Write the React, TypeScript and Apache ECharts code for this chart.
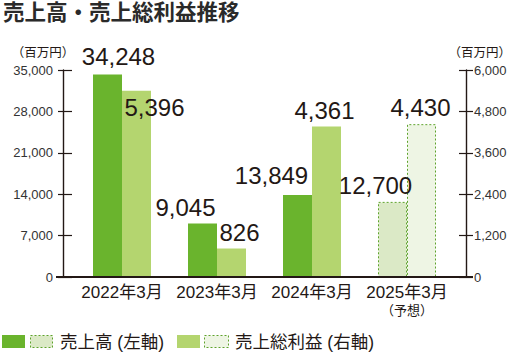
import React, { useEffect, useRef } from 'react';
import * as echarts from 'echarts';

const categories = ['2022年3月', '2023年3月', '2024年3月', '2025年3月'];
const categoryNotes = ['', '', '', '（予想）'];
const salesValues = [34248, 9045, 13849, 12700];
const grossProfitValues = [5396, 826, 4361, 4430];
const forecastFlags = [false, false, false, true];
const leftAxis = { min: 0, max: 35000, interval: 7000 };
const rightAxis = { min: 0, max: 6000, interval: 1200 };
const titleText = '売上高・売上総利益推移';
const unitText = '（百万円）';
const legendSales = '売上高 (左軸)';
const legendProfit = '売上総利益 (右軸)';

// label placement tweaks (style, not data)
const salesLabelOffsets = [[11, -18], [-17, -16], [-26, -20], [-17, -16]];
const profitLabelOffsets = [[18, 17], [8, -16], [-2, -16], [-1, -17]];

const FONT = "'Liberation Sans', 'Noto Sans CJK JP', sans-serif";
const INK = '#231815';
const DARK = '#6ab42d';
const LIGHT = '#b4d56f';
const DARK_FC = '#dbe9c6';
const LIGHT_FC = '#eef5e4';
const DASH_STROKE = '#5ea32c';

const fmt = (v: number) => Number(v).toLocaleString('en-US');

export default function App() {
  const ref = useRef<HTMLDivElement>(null);
  useEffect(() => {
    document.body.style.margin = '0';
    const chart = echarts.init(ref.current!, null, { renderer: 'svg' });
    const labelBase = {
      show: true,
      position: 'top',
      distance: 0,
      align: 'center',
      verticalAlign: 'middle',
      fontSize: 24,
      color: INK,
      fontFamily: FONT,
      formatter: (p: any) => fmt(p.value),
    };
    const tickAxis = (pos: 'left' | 'right', r: any, inside: boolean, len: number) => ({
      type: 'value',
      position: pos,
      offset: 11.5,
      min: r.min,
      max: r.max,
      interval: r.interval,
      axisLine: { show: !inside, lineStyle: { color: INK, width: 1.4 } },
      axisTick: { show: true, inside, length: len, lineStyle: { color: INK, width: 1.2 } },
      axisLabel: {
        show: !inside,
        margin: pos === 'left' ? 10 : 8,
        fontSize: 13,
        color: '#333',
        fontFamily: FONT,
        formatter: (v: number) => fmt(v),
      },
      splitLine: { show: false },
    });
    chart.setOption({
      animation: false,
      textStyle: { fontFamily: FONT },
      grid: { left: 74.5, right: 59.5, top: 70, bottom: 75, containLabel: false },
      xAxis: {
        type: 'category',
        data: categories,
        axisLine: { show: false },
        axisTick: { show: false },
        axisLabel: {
          margin: 5,
          interval: 0,
          formatter: (v: string, i: number) =>
            categoryNotes[i] ? `{m|${v}}\n{s|${categoryNotes[i]}}` : `{m|${v}}`,
          rich: {
            m: { fontSize: 17, color: INK, fontFamily: FONT, lineHeight: 20 },
            s: { fontSize: 13, color: INK, fontFamily: FONT, lineHeight: 17 },
          },
        },
      },
      yAxis: [
        tickAxis('left', leftAxis, false, 5),
        tickAxis('right', rightAxis, false, 7),
        tickAxis('left', leftAxis, true, 9),
        tickAxis('right', rightAxis, true, 7),
      ],
      series: [
        {
          type: 'bar',
          name: '売上高',
          yAxisIndex: 0,
          barWidth: 29,
          barGap: '0%',
          label: labelBase,
          data: salesValues.map((v, i) => ({
            value: v,
            itemStyle: forecastFlags[i]
              ? { color: DARK_FC, borderColor: DASH_STROKE, borderType: [2, 2], borderWidth: 1 }
              : { color: DARK },
            label: { offset: salesLabelOffsets[i] },
          })),
        },
        {
          type: 'bar',
          name: '売上総利益',
          yAxisIndex: 1,
          barWidth: 29,
          barGap: '0%',
          label: labelBase,
          data: grossProfitValues.map((v, i) => ({
            value: v,
            itemStyle: forecastFlags[i]
              ? { color: LIGHT_FC, borderColor: DASH_STROKE, borderType: [2, 2], borderWidth: 1 }
              : { color: LIGHT },
            label: { offset: profitLabelOffsets[i] },
          })),
        },
      ],
      graphic: [
        {
          type: 'text',
          left: 3,
          top: 2,
          style: { text: titleText, fontSize: 21.5, fontWeight: 'bold', fill: '#2a2a2a', fontFamily: FONT },
        },
        {
          type: 'text',
          x: 43,
          y: 53,
          style: { text: unitText, fontSize: 12.5, fill: INK, fontFamily: FONT, align: 'center', verticalAlign: 'middle' },
        },
        {
          type: 'text',
          x: 511,
          y: 53,
          style: { text: unitText, fontSize: 12.5, fill: INK, fontFamily: FONT, align: 'right', verticalAlign: 'middle' },
        },
        {
          type: 'line',
          shape: { x1: 56, y1: 277, x2: 473, y2: 277 },
          style: { stroke: INK, lineWidth: 2 },
          z: 10,
        },
        { type: 'rect', shape: { x: 2, y: 335, width: 23, height: 13 }, style: { fill: DARK } },
        {
          type: 'rect',
          shape: { x: 30.5, y: 335.5, width: 22, height: 12 },
          style: { fill: DARK_FC, stroke: DASH_STROKE, lineWidth: 1, lineDash: [2, 2] },
        },
        {
          type: 'text',
          x: 60,
          y: 342,
          style: { text: legendSales, fontSize: 17.5, fill: INK, fontFamily: FONT, verticalAlign: 'middle' },
        },
        { type: 'rect', shape: { x: 177, y: 335, width: 23, height: 13 }, style: { fill: LIGHT } },
        {
          type: 'rect',
          shape: { x: 204.5, y: 335.5, width: 24, height: 12 },
          style: { fill: LIGHT_FC, stroke: DASH_STROKE, lineWidth: 1, lineDash: [2, 2] },
        },
        {
          type: 'text',
          x: 235,
          y: 342,
          style: { text: legendProfit, fontSize: 17.5, fill: INK, fontFamily: FONT, verticalAlign: 'middle' },
        },
      ],
    });
    return () => chart.dispose();
  }, []);
  return <div ref={ref} style={{ width: 514, height: 352 }} />;
}
